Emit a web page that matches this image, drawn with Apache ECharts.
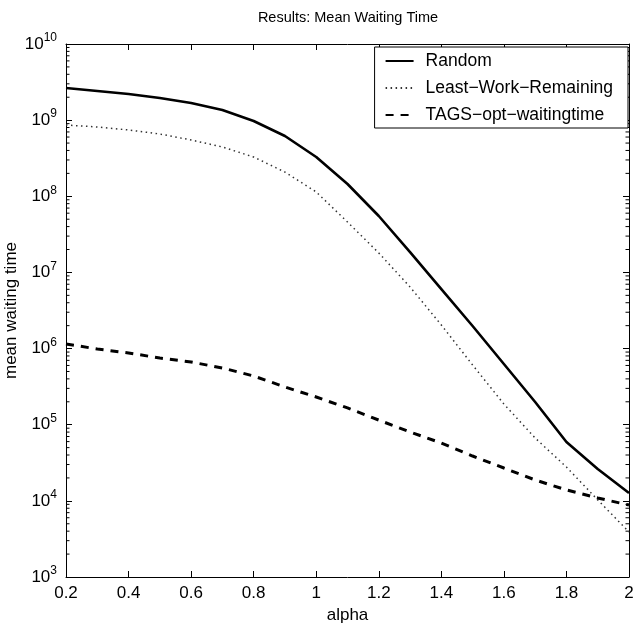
<!DOCTYPE html>
<html>
<head>
<meta charset="utf-8">
<script src="https://cdn.jsdelivr.net/npm/echarts@6/dist/echarts.min.js"></script>
<style>
html,body{margin:0;padding:0;background:#fff;}
#chart{width:634px;height:633px;}
</style>
</head>
<body>
<div id="chart"></div>
<script>
const alphas = [0.2,0.3,0.4,0.5,0.6,0.7,0.8,0.9,1.0,1.1,1.2,1.3,1.4,1.5,1.6,1.7,1.8,1.9,2.0];
const randomVals = [2.64e9,2.41e9,2.20e9,1.95e9,1.68e9,1.36e9,9.75e8,6.19e8,3.28e8,1.45e8,5.51e7,1.85e7,6.05e6,1.98e6,6.27e5,1.99e5,5.93e4,2.62e4,1.27e4];
const lwrVals = [8.63e8,8.13e8,7.43e8,6.58e8,5.49e8,4.44e8,3.28e8,2.08e8,1.14e8,4.59e7,1.80e7,6.44e6,2.04e6,6.08e5,1.87e5,6.68e4,2.78e4,1.03e4,3.90e3];
const tagsVals = [1.15e6,9.87e5,8.75e5,7.52e5,6.66e5,5.56e5,4.36e5,3.13e5,2.31e5,1.66e5,1.15e5,8.02e4,5.75e4,3.88e4,2.70e4,1.88e4,1.39e4,1.09e4,8.81e3];
const seriesNames = ['Random','Least\u2212Work\u2212Remaining','TAGS\u2212opt\u2212waitingtime'];
const titleText = 'Results: Mean Waiting Time';
const xName = 'alpha';
const yName = 'mean waiting time';
const yMin = 1e3, yMax = 1e10;
const xMin = 0.2, xMax = 2, xStep = 0.2;

const FONT = 'Liberation Sans, Arial, Helvetica, sans-serif';

// minor tick positions for the log axis (2..9 x 10^d)
const minorTicks = [];
for (let d = 3; d < 10; d++) for (let k = 2; k <= 9; k++) minorTicks.push([xMin, k * Math.pow(10, d)]);

const pair = (vals) => alphas.map((a, i) => [a, vals[i]]);

const chart = echarts.init(document.getElementById('chart'), null, {renderer: 'canvas'});

const yLabel = {
  show: true,
  margin: 9,
  formatter: v => '{b|10}{s|' + Math.round(Math.log10(v)) + '}',
  rich: {
    b: {fontSize: 17, fontFamily: FONT, color: '#000'},
    s: {fontSize: 12, fontFamily: FONT, color: '#000', padding: [0, 0, 12, 0]}
  }
};

const baseY = {
  type: 'log', logBase: 10, min: yMin, max: yMax,
  axisLine: {show: true, lineStyle: {color: '#000', width: 1}},
  axisTick: {show: true, inside: true, length: 6, lineStyle: {color: '#000'}},
  splitLine: {show: false}
};
const baseX = {
  type: 'value', min: xMin, max: xMax, interval: xStep,
  axisLine: {show: true, onZero: false, lineStyle: {color: '#000', width: 1}},
  axisTick: {show: true, inside: true, length: 6, lineStyle: {color: '#000'}},
  splitLine: {show: false}
};

chart.setOption({
  animation: false,
  backgroundColor: '#fff',
  title: {
    text: titleText, left: 343, top: 5, textAlign: 'center',
    textStyle: {fontSize: 14.5, fontWeight: 'normal', fontFamily: FONT, color: '#000'}
  },
  grid: {left: 66, right: 5, top: 44, bottom: 56, containLabel: false, outerBoundsMode: 'none'},
  legend: {
    data: seriesNames,
    orient: 'vertical', right: 6, top: 47,
    padding: [5, 15, 4, 10],
    itemGap: 9, itemWidth: 28, itemHeight: 16,
    itemStyle: {opacity: 0},
    backgroundColor: '#fff', borderColor: '#000', borderWidth: 1,
    textStyle: {fontSize: 17.5, fontFamily: FONT, color: '#000', padding: [0, 0, 0, 7]},
    selectedMode: false
  },
  xAxis: [
    Object.assign({}, baseX, {
      position: 'bottom',
      name: xName, nameLocation: 'middle', nameGap: 30, nameMoveOverlap: false,
      nameTextStyle: {fontSize: 17, fontFamily: FONT, color: '#000'},
      axisLabel: {show: true, margin: 8, fontSize: 17, fontFamily: FONT, color: '#000',
        formatter: v => String(+v.toFixed(1))}
    }),
    Object.assign({}, baseX, {position: 'top', axisLabel: {show: false}})
  ],
  yAxis: [
    Object.assign({}, baseY, {
      position: 'left',
      name: yName, nameLocation: 'middle', nameGap: 46, nameRotate: 90, nameMoveOverlap: false,
      nameTextStyle: {fontSize: 17, fontFamily: FONT, color: '#000'},
      axisLabel: yLabel
    }),
    Object.assign({}, baseY, {position: 'right', axisLabel: {show: false}})
  ],
  series: [
    {
      name: seriesNames[0], type: 'line', data: pair(randomVals),
      showSymbol: false, symbol: 'none', smooth: false,
      lineStyle: {color: '#000', width: 2.6, type: 'solid'},
      itemStyle: {color: '#000'}
    },
    {
      name: seriesNames[1], type: 'line', data: pair(lwrVals),
      showSymbol: false, symbol: 'none',
      lineStyle: {color: '#333', width: 1.5, type: [1.5, 3.5]},
      itemStyle: {color: '#333'}
    },
    {
      name: seriesNames[2], type: 'line', data: pair(tagsVals),
      showSymbol: false, symbol: 'none',
      lineStyle: {color: '#000', width: 3, type: [8, 7]},
      itemStyle: {color: '#000'}
    },
    {
      name: 'minorTicks', type: 'custom', silent: true, data: minorTicks,
      encode: {x: 0, y: 1},
      renderItem: (params, api) => {
        const y = api.coord([api.value(0), api.value(1)])[1];
        const cs = params.coordSys;
        const st = {stroke: '#000', lineWidth: 1};
        return {type: 'group', children: [
          {type: 'line', shape: {x1: cs.x, y1: y, x2: cs.x + 3.5, y2: y}, style: st},
          {type: 'line', shape: {x1: cs.x + cs.width, y1: y, x2: cs.x + cs.width - 3.5, y2: y}, style: st}
        ]};
      }
    }
  ]
});
</script>
</body>
</html>
